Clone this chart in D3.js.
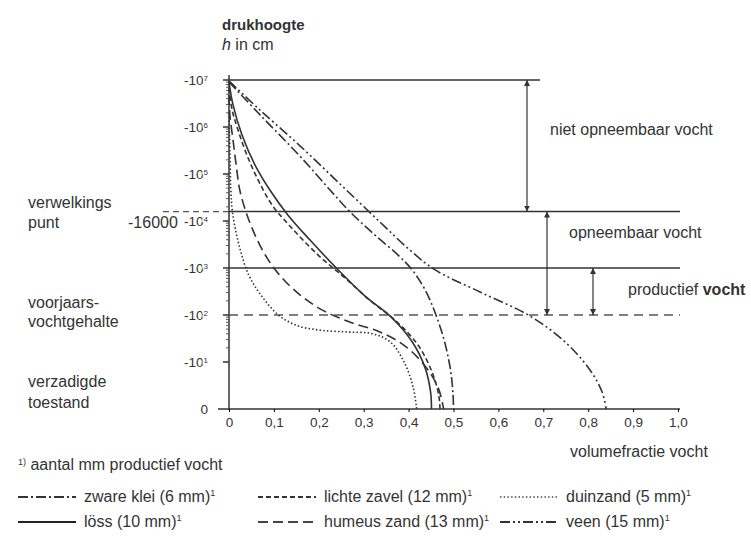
<!DOCTYPE html>
<html lang="nl">
<head>
<meta charset="utf-8">
<title>pF-curven</title>
<script src="https://d3js.org/d3.v7.min.js"></script>
<style>
  body { margin: 0; background: #fff; }
  svg { font-family: "Liberation Sans", Arial, sans-serif; fill: #333; }
  .lbl { font-size: 16px; fill: #333; }
  .tick text { font-size: 13.5px; fill: #333; }
  .curve { fill: none; stroke: #333; stroke-width: 1.6; }
  .ref { stroke: #333; stroke-width: 1.5; fill: none; }
</style>
</head>
<body>
<script>
// pF = log10(-h), theta = volumefractie vocht
var xTicks = [0, 0.1, 0.2, 0.3, 0.4, 0.5, 0.6, 0.7, 0.8, 0.9, 1.0];
var yTicks = [0, 1, 2, 3, 4, 5, 6, 7];

var soilNames = ["zware klei", "lichte zavel", "duinzand", "löss", "humeus zand", "veen"];
var soilMm = [6, 12, 5, 10, 13, 15];

var zwareKlei = [[0, 6.96], [0.069, 6.26], [0.158, 5.38], [0.225, 4.66], [0.27, 4.19], [0.325, 3.7],
  [0.376, 3.28], [0.408, 2.96], [0.437, 2.53], [0.461, 2.0], [0.481, 1.4], [0.494, 0.79],
  [0.499, 0.3], [0.5, 0]];
var lichteZavel = [[0, 6.83], [0.007, 6.36], [0.02, 5.94], [0.04, 5.4], [0.065, 4.87], [0.096, 4.34],
  [0.136, 3.89], [0.198, 3.28], [0.258, 2.79], [0.318, 2.28], [0.37, 1.89], [0.421, 1.36],
  [0.452, 0.79], [0.467, 0.3], [0.47, 0]];
var duinzand = [[0, 6.3], [0.002, 5.5], [0.004, 4.7], [0.008, 4.17], [0.022, 3.5], [0.044, 2.85],
  [0.073, 2.4], [0.11, 2.0], [0.15, 1.78], [0.2, 1.68], [0.26, 1.64], [0.32, 1.6],
  [0.36, 1.42], [0.39, 1.0], [0.41, 0.47], [0.418, 0]];
var loss = [[0, 6.96], [0.009, 6.47], [0.029, 5.83], [0.058, 5.19], [0.091, 4.66], [0.131, 4.13],
  [0.18, 3.6], [0.243, 2.96], [0.303, 2.4], [0.363, 1.94], [0.408, 1.43], [0.437, 0.87],
  [0.449, 0.36], [0.451, 0]];
var humeusZand = [[0, 6.68], [0.002, 6.26], [0.009, 5.72], [0.016, 5.19], [0.024, 4.66], [0.038, 4.19],
  [0.058, 3.7], [0.085, 3.21], [0.118, 2.79], [0.158, 2.43], [0.207, 2.11], [0.269, 1.85],
  [0.336, 1.64], [0.392, 1.34], [0.437, 0.91], [0.466, 0.45], [0.478, 0]];
var veen = [[0, 6.98], [0.069, 6.36], [0.158, 5.6], [0.247, 4.79], [0.336, 3.98], [0.403, 3.38],
  [0.459, 2.96], [0.559, 2.49], [0.67, 1.98], [0.748, 1.43], [0.804, 0.83], [0.831, 0.36],
  [0.84, 0]];

var curves = [zwareKlei, lichteZavel, duinzand, loss, humeusZand, veen];
var dashes = ["10,3,2,3", "5,3", "1.5,2.2", null, "10,5", "10,3,2,3,2,3"];
var strokes = ["#333", "#333", "#777", "#222", "#444", "#333"];

// grenzen: pF 7, verwelkingspunt pF 4.2, pF 3, voorjaarsvochtgehalte pF 2
var pfTop = 7, pfWilt = 4.2, pfProd = 3, pfSpring = 2;

var w = 751, h = 538;
var svg = d3.select("body").append("svg").attr("width", w).attr("height", h);
svg.append("rect").attr("width", w).attr("height", h).attr("fill", "#fff");

var x = d3.scaleLinear().domain([0, 1]).range([229, 678]);
var y = d3.scaleLinear().domain([0, 7]).range([409, 80]);

// arrow markers
var defs = svg.append("defs");
defs.append("marker").attr("id", "arr").attr("viewBox", "0 0 10 10")
  .attr("refX", 10).attr("refY", 5).attr("markerWidth", 5).attr("markerHeight", 5)
  .attr("orient", "auto-start-reverse")
  .append("path").attr("d", "M0,0L10,5L0,10z").attr("fill", "#333");

// axes
svg.append("line").attr("class", "ref").attr("x1", x(0)).attr("x2", x(0)).attr("y1", y(7) - 5).attr("y2", y(0) + 1);
svg.append("line").attr("class", "ref").attr("x1", 218).attr("x2", 680).attr("y1", y(0)).attr("y2", y(0));

var xAxis = svg.append("g").attr("transform", "translate(0," + y(0) + ")")
  .call(d3.axisBottom(x).tickValues(xTicks).tickSizeInner(3).tickSizeOuter(0)
    .tickFormat(function(d) { return d === 0 ? "0" : d3.format(".1f")(d).replace(".", ","); }));
xAxis.select(".domain").remove();
xAxis.selectAll("text").attr("dy", "0.9em");

// y ticks (major + minor)
var minor = [];
yTicks.forEach(function(p) {
  if (p < 7 && p > 0) for (var k = 2; k < 10; k++) minor.push(p + Math.log10(k));
});
svg.append("g").selectAll("line").data(minor).enter().append("line")
  .attr("x1", x(0) - 3).attr("x2", x(0)).attr("y1", function(d) { return y(d); }).attr("y2", function(d) { return y(d); })
  .attr("stroke", "#555").attr("stroke-width", 1);
svg.append("g").selectAll("line").data(yTicks.filter(function(d) { return d > 0; })).enter().append("line")
  .attr("x1", x(0) - 6).attr("x2", x(0)).attr("y1", function(d) { return y(d); }).attr("y2", function(d) { return y(d); })
  .attr("stroke", "#333").attr("stroke-width", 1.5);

// wilting point dashed extension
svg.append("line").attr("x1", 163).attr("x2", x(0)).attr("y1", y(pfWilt)).attr("y2", y(pfWilt))
  .attr("stroke", "#555").attr("stroke-width", 1.3).attr("stroke-dasharray", "6,4");

var yl = svg.append("g").selectAll("text").data(yTicks).enter().append("text")
  .attr("x", 208).attr("y", function(d) { return y(d); }).attr("dy", "0.35em")
  .attr("text-anchor", "end").style("font-size", "13.5px")
  .attr("stroke", "#fff").attr("stroke-width", 3).attr("paint-order", "stroke");
yl.append("tspan").text(function(d) { return d === 0 ? "0" : "-10"; });
yl.filter(function(d) { return d > 0; }).append("tspan")
  .attr("dy", "-0.45em").style("font-size", "8px").text(function(d) { return d; });

// reference lines
svg.append("line").attr("class", "ref").attr("x1", x(0)).attr("x2", 540).attr("y1", y(pfTop)).attr("y2", y(pfTop));
svg.append("line").attr("class", "ref").attr("x1", x(0)).attr("x2", 680).attr("y1", y(pfWilt)).attr("y2", y(pfWilt));
svg.append("line").attr("class", "ref").attr("x1", x(0)).attr("x2", 680).attr("y1", y(pfProd)).attr("y2", y(pfProd));
svg.append("line").attr("x1", x(0)).attr("x2", 680).attr("y1", y(pfSpring)).attr("y2", y(pfSpring))
  .attr("stroke", "#555").attr("stroke-width", 1.5).attr("stroke-dasharray", "9,6");

// curves
var line = d3.line().x(function(d) { return x(d[0]); }).y(function(d) { return y(d[1]); })
  .curve(d3.curveCatmullRom.alpha(0.5));
svg.append("g").selectAll("path").data(curves).enter().append("path")
  .attr("class", "curve").attr("d", line)
  .attr("stroke", function(d, i) { return strokes[i]; })
  .attr("stroke-width", function(d, i) { return i === 2 ? 1.8 : 1.6; })
  .attr("stroke-dasharray", function(d, i) { return dashes[i]; });

// double arrows
function darrow(xp, p1, p2) {
  svg.append("line").attr("x1", xp).attr("x2", xp).attr("y1", y(p1)).attr("y2", y(p2))
    .attr("stroke", "#333").attr("stroke-width", 1.2)
    .attr("marker-start", "url(#arr)").attr("marker-end", "url(#arr)");
}
darrow(527, pfTop, pfWilt);
darrow(547, pfWilt, pfSpring);
darrow(593, pfProd, pfSpring);

// texts
function txt(s, tx, ty, extra) {
  var t = svg.append("text").attr("class", "lbl").attr("x", tx).attr("y", ty).text(s);
  if (extra) extra(t);
  return t;
}
txt("drukhoogte", 222, 30, function(t) { t.style("font-weight", "bold").style("font-size", "15px"); });
var hcm = svg.append("text").attr("class", "lbl").attr("x", 222).attr("y", 50);
hcm.append("tspan").style("font-style", "italic").text("h");
hcm.append("tspan").text(" in cm");

txt("niet opneembaar vocht", 550, 135);
txt("opneembaar vocht", 569, 238);
var pv = svg.append("text").attr("class", "lbl").attr("x", 628).attr("y", 295);
pv.append("tspan").text("productief ");
pv.append("tspan").style("font-weight", "bold").text("vocht");

txt("verwelkings", 28, 208);
txt("punt", 28, 228);
txt("-16000", 128, 228);
txt("voorjaars-", 28, 308);
txt("vochtgehalte", 28, 327);
txt("verzadigde", 28, 387);
txt("toestand", 28, 408);
txt("volumefractie vocht", 570, 457);

var fn = svg.append("text").attr("class", "lbl").attr("x", 18).attr("y", 470);
fn.append("tspan").style("font-size", "9px").attr("dy", "-5").text("1)");
fn.append("tspan").attr("dy", "5").text(" aantal mm productief vocht");

// legend
var legX = [18, 258, 500, 18, 258, 500];
var legY = [502, 502, 502, 527, 527, 527];
var order = [0, 1, 2, 3, 4, 5];
var leg = svg.append("g").selectAll("g").data(order).enter().append("g")
  .attr("transform", function(d) { return "translate(" + legX[d] + "," + legY[d] + ")"; });
leg.append("line").attr("x1", 0).attr("x2", 58).attr("y1", -5).attr("y2", -5)
  .attr("stroke", function(d) { return strokes[d]; })
  .attr("stroke-width", 1.8)
  .attr("stroke-dasharray", function(d) { return dashes[d]; });
var lt = leg.append("text").attr("class", "lbl").attr("x", 66).attr("y", 0);
lt.append("tspan").text(function(d) { return soilNames[d] + " (" + soilMm[d] + " mm)"; });
lt.append("tspan").attr("dy", "-6").style("font-size", "9px").text("1");
</script>
</body>
</html>
